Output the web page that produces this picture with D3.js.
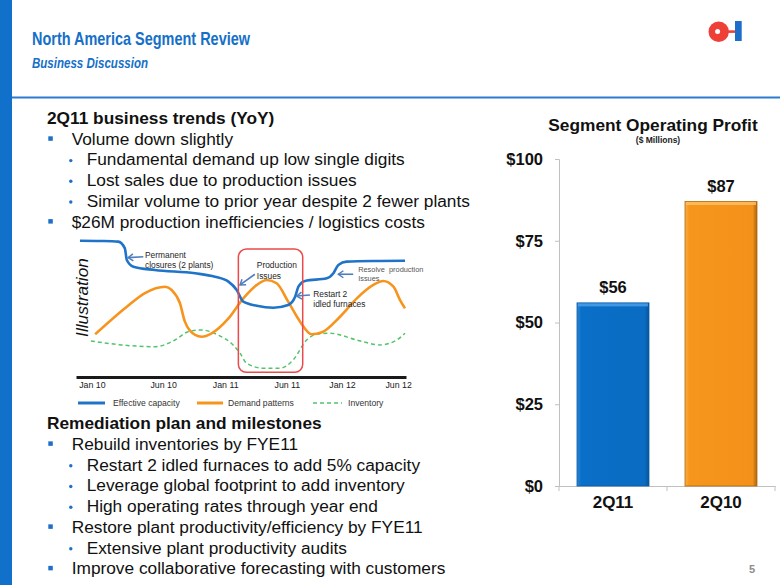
<!DOCTYPE html>
<html><head><meta charset="utf-8">
<script src="https://cdn.jsdelivr.net/npm/d3@7"></script>
<style>
html,body{margin:0;padding:0;background:#fff;}
svg{display:block;font-family:"Liberation Sans",Arial,sans-serif;}
</style></head><body>
<svg id="c" width="780" height="585"></svg>
<script>
// ---------- DATA ----------
const pageTitle = "North America Segment Review";
const pageSubtitle = "Business Discussion";
const pageNumber = "5";

const trendsHeading = "2Q11 business trends (YoY)";
const trendItems = [
  [1, "Volume down slightly"],
  [2, "Fundamental demand up low single digits"],
  [2, "Lost sales due to production issues"],
  [2, "Similar volume to prior year despite 2 fewer plants"],
  [1, "$26M production inefficiencies / logistics costs"]
];
const planHeading = "Remediation plan and milestones";
const planItems = [
  [1, "Rebuild inventories by FYE11"],
  [2, "Restart 2 idled furnaces to add 5% capacity"],
  [2, "Leverage global footprint to add inventory"],
  [2, "High operating rates through year end"],
  [1, "Restore plant productivity/efficiency by FYE11"],
  [2, "Extensive plant productivity audits"],
  [1, "Improve collaborative forecasting with customers"]
];

// Bar chart
const barTitle = "Segment Operating Profit";
const barSubtitle = "($ Millions)";
const barCategories = ["2Q11", "2Q10"];
const barValues = [56, 87];
const barTicks = [0, 25, 50, 75, 100];

// Illustration (index units 0-100 on both axes)
const illoTickLabels = ["Jan 10", "Jun 10", "Jan 11", "Jun 11", "Jan 12", "Jun 12"];
const illoTickPos = [4.8, 26.4, 45.2, 63.9, 80.6, 97.6];
const capacity = [[1.2,99.5],[7.3,99.3],[12.8,98.8],[14.8,93.9],[15.4,85.4],[17.4,80.5],[23.9,78.1],[36.1,75.7],[42.1,73.2],[46.2,69.6],[48.7,63.5],[50.7,55.0],[54.8,52.0],[59.8,50.6],[64.3,52.6],[66.4,58.6],[67.4,65.9],[69.4,70.1],[76.0,72.0],[78.0,75.7],[79.5,81.8],[82.0,84.2],[92.1,84.7],[99.7,84.9]];
const demand = [[5.8,31.2],[15.4,51.3],[20.9,61.3],[27.0,65.9],[29.0,63.5],[31.5,53.8],[33.0,40.4],[36.1,30.7],[38.1,29.4],[41.1,31.9],[46.2,42.8],[50.7,57.4],[54.8,67.2],[57.8,70.8],[60.8,68.4],[64.3,55.0],[67.9,40.4],[71.4,31.2],[74.5,32.6],[80.0,44.0],[85.1,57.4],[90.1,67.2],[93.1,70.1],[96.2,65.9],[98.2,56.2],[99.7,50.1]];
const inventory = [[4.5,26.3],[13.8,23.4],[23.9,22.1],[30.0,27.0],[34.0,33.1],[38.1,34.3],[43.0,30.7],[47.6,23.4],[49.7,17.4],[51.7,10.0],[56.8,6.4],[61.8,6.4],[65.8,12.4],[69.9,27.0],[72.9,31.2],[77.0,31.9],[85.1,27.0],[92.1,23.4],[97.2,27.0],[99.7,31.9]];
const highlightBox = {x0: 49.2, x1: 68.7, y0: 3.4, y1: 93.4};
const annotations = [
  {lines: ["Permanent", "closures (2 plants)"], tx: 20.9, ty: 87.0, ax0: 20.4, ay0: 87.8, ax1: 15.8, ay1: 87.1, small: false},
  {lines: ["Production", "Issues"], tx: 54.8, ty: 79.3, ax0: 54.2, ay0: 75.0, ax1: 49.7, ay1: 67.2, small: false},
  {lines: ["Restart 2", "idled furnaces"], tx: 71.9, ty: 58.6, ax0: 70.9, ay0: 59.9, ax1: 66.9, ay1: 59.1, small: false},
  {lines: ["Resolve  production", "Issues"], tx: 85.5, ty: 76.4, ax0: 84.0, ay0: 75.0, ax1: 79.5, ay1: 75.0, small: true}
];
const legendItems = ["Effective capacity", "Demand patterns", "Inventory"];

// ---------- DRAW ----------
const svg = d3.select("#c");
const BLUE = "#1570C8";

// left bar & header rule
svg.append("rect").attr("x", 0).attr("y", 0).attr("width", 12).attr("height", 585).attr("fill", "#1170C9");
svg.append("rect").attr("x", 12).attr("y", 96.5).attr("width", 768).attr("height", 2).attr("fill", "#2C7BD0");

svg.append("text").attr("x", 32).attr("y", 45)
  .attr("font-family", "'Liberation Sans Narrow','Arial Narrow','Liberation Sans',Arial,sans-serif")
  .attr("font-size", 18.5).attr("font-weight", "bold").attr("fill", BLUE)
  .attr("textLength", 218).attr("lengthAdjust", "spacingAndGlyphs").text(pageTitle);
svg.append("text").attr("x", 32).attr("y", 68.3)
  .attr("font-family", "'Liberation Sans Narrow','Arial Narrow','Liberation Sans',Arial,sans-serif")
  .attr("font-size", 14).attr("font-weight", "bold").attr("font-style", "italic").attr("fill", BLUE)
  .attr("textLength", 116).attr("lengthAdjust", "spacingAndGlyphs").text(pageSubtitle);

// logo
const logo = svg.append("g");
logo.append("rect").attr("x", 727).attr("y", 30.3).attr("width", 9).attr("height", 2.6).attr("fill", "#EE4036");
logo.append("circle").attr("cx", 718.7).attr("cy", 31.7).attr("r", 10.2).attr("fill", "#EE4036");
logo.append("circle").attr("cx", 717.6).attr("cy", 31.5).attr("r", 2.5).attr("fill", "#fff");
logo.append("rect").attr("x", 735).attr("y", 21).attr("width", 6.7).attr("height", 20).attr("fill", "#1B6FC8");

// page number
svg.append("text").attr("x", 752).attr("y", 573).attr("text-anchor", "middle")
  .attr("font-size", 11).attr("font-weight", "bold").attr("fill", "#8C8C8C").text(pageNumber);

// bullet blocks
function block(heading, items, y0, step) {
  const g = svg.append("g");
  g.append("text").attr("x", 47).attr("y", y0).attr("font-size", 17.3).attr("font-weight", "bold")
    .attr("fill", "#111").text(heading);
  items.forEach((it, i) => {
    const y = y0 + (i + 1) * step;
    if (it[0] === 1) {
      g.append("rect").attr("x", 48.3).attr("y", y - 8.4).attr("width", 4.5).attr("height", 4.5).attr("fill", "#1F6FC8");
      g.append("text").attr("x", 71.7).attr("y", y).attr("font-size", 17.3).attr("fill", "#111").text(it[1]);
    } else {
      g.append("circle").attr("cx", 70.8).attr("cy", y - 4.8).attr("r", 1.7).attr("fill", "#1F6FC8");
      g.append("text").attr("x", 86.7).attr("y", y).attr("font-size", 17.3).attr("fill", "#111").text(it[1]);
    }
  });
}
block(trendsHeading, trendItems, 124, 20.7);
block(planHeading, planItems, 429, 20.75);

// ---------- Illustration ----------
const ix = d3.scaleLinear().domain([0, 100]).range([76, 406]);
const iy = d3.scaleLinear().domain([0, 100]).range([377, 240]);
const ig = svg.append("g");
const lineGen = d3.line().x(d => ix(d[0])).y(d => iy(d[1])).curve(d3.curveMonotoneX);

ig.append("path").datum(inventory).attr("d", lineGen).attr("fill", "none")
  .attr("stroke", "#52C46A").attr("stroke-width", 1.5).attr("stroke-dasharray", "4,3");
ig.append("path").datum(demand).attr("d", lineGen).attr("fill", "none")
  .attr("stroke", "#F7941E").attr("stroke-width", 2.6);
ig.append("path").datum(capacity).attr("d", lineGen).attr("fill", "none")
  .attr("stroke", "#1F74C9").attr("stroke-width", 2.6);

// red highlight box
ig.append("rect").attr("x", ix(highlightBox.x0)).attr("y", iy(highlightBox.y1))
  .attr("width", ix(highlightBox.x1) - ix(highlightBox.x0)).attr("height", iy(highlightBox.y0) - iy(highlightBox.y1))
  .attr("rx", 8).attr("fill", "none").attr("stroke", "#EC4A4A").attr("stroke-width", 1.5);

// axis
const ixAxis = d3.axisBottom(ix).tickValues(illoTickPos).tickSize(0).tickPadding(5)
  .tickFormat((d, i) => illoTickLabels[i]);
const axG = ig.append("g").attr("transform", `translate(0,${iy(0)})`).call(ixAxis);
axG.select(".domain").attr("stroke", "#1a1a1a").attr("stroke-width", 3);
axG.selectAll("text").attr("font-size", 8.8).attr("fill", "#222").attr("font-family", "'Liberation Sans',Arial,sans-serif");

// Illustration vertical label
ig.append("text").attr("transform", `translate(88,297.5) rotate(-90)`).attr("text-anchor", "middle")
  .attr("font-size", 17.3).attr("font-style", "italic").attr("fill", "#111").text("Illustration");

// arrows
const defs = svg.append("defs");
defs.append("marker").attr("id", "ah").attr("markerUnits", "userSpaceOnUse")
  .attr("viewBox", "-8 -6 10 12").attr("refX", 0).attr("refY", 0)
  .attr("markerWidth", 10).attr("markerHeight", 12).attr("orient", "auto")
  .append("path").attr("d", "M-5,-3.5L0,0L-5,3.5").attr("fill", "none")
  .attr("stroke", "#4F7FBF").attr("stroke-width", 1.5);

annotations.forEach(a => {
  ig.append("line").attr("x1", ix(a.ax0)).attr("y1", iy(a.ay0)).attr("x2", ix(a.ax1)).attr("y2", iy(a.ay1))
    .attr("stroke", "#4F7FBF").attr("stroke-width", 1.6).attr("marker-end", "url(#ah)");
  const fs = a.small ? 7.4 : 8.4;
  const t = ig.append("text").attr("x", ix(a.tx)).attr("y", iy(a.ty)).attr("font-size", fs)
    .attr("fill", a.small ? "#555" : "#262626").style("white-space", "pre");
  a.lines.forEach((l, i) => {
    t.append("tspan").attr("x", ix(a.tx)).attr("dy", i === 0 ? 0 : (a.small ? 8.8 : 10.5)).text(l);
  });
});

// legend
const legendX = [[78, 105, 113], [197, 223, 228], [313, 342, 348]];
const legendStyle = [
  {stroke: "#1F74C9", w: 3, dash: null},
  {stroke: "#F7941E", w: 3, dash: null},
  {stroke: "#52C46A", w: 1.5, dash: "4,3"}
];
legendItems.forEach((name, i) => {
  const [a, b, tx] = legendX[i];
  ig.append("line").attr("x1", a).attr("x2", b).attr("y1", 403).attr("y2", 403)
    .attr("stroke", legendStyle[i].stroke).attr("stroke-width", legendStyle[i].w)
    .attr("stroke-dasharray", legendStyle[i].dash);
  ig.append("text").attr("x", tx).attr("y", 406).attr("font-size", 8.6).attr("fill", "#333").text(name);
});

// ---------- Bar chart ----------
const bx = d3.scaleBand().domain(barCategories).range([559, 775]).paddingInner(1/3).paddingOuter(1/6);
const by = d3.scaleLinear().domain([0, 100]).range([486, 159]);
const bg = svg.append("g");

bg.append("text").attr("x", 653).attr("y", 130.7).attr("text-anchor", "middle")
  .attr("font-size", 17.3).attr("font-weight", "bold").attr("fill", "#111").text(barTitle);
bg.append("text").attr("x", 658).attr("y", 143.3).attr("text-anchor", "middle")
  .attr("font-size", 8.5).attr("font-weight", "bold").attr("fill", "#222").text(barSubtitle);

// y axis
const yAx = bg.append("g").attr("transform", "translate(559,0)")
  .call(d3.axisLeft(by).tickValues(barTicks).tickSize(4).tickPadding(12).tickFormat(d => "$" + d));
yAx.select(".domain").attr("stroke", "#C0C0C0");
yAx.selectAll(".tick line").attr("stroke", "#C0C0C0");
yAx.selectAll("text").attr("font-size", 16.5).attr("font-weight", "bold").attr("fill", "#111")
  .attr("font-family", "'Liberation Sans',Arial,sans-serif");

// x axis
const xAx = bg.append("g").attr("transform", "translate(0,486)")
  .call(d3.axisBottom(bx).tickSize(0).tickPadding(10));
xAx.select(".domain").attr("stroke", "#C0C0C0");
xAx.selectAll("text").attr("font-size", 17).attr("font-weight", "bold").attr("fill", "#111")
  .attr("font-family", "'Liberation Sans',Arial,sans-serif");
const bounds = [bx.range()[0], ...barCategories.slice(1).map(c => bx(c) - bx.step() * bx.paddingInner() / 2), bx.range()[1]];
bg.selectAll(".xt").data(bounds).join("line").attr("x1", d => d).attr("x2", d => d)
  .attr("y1", 486).attr("y2", 491).attr("stroke", "#C0C0C0");

// gradients
const grads = [
  {id: "gB", stops: ["#2B86D6", "#0A6FC8", "#0A6CC2", "#07549A"]},
  {id: "gO", stops: ["#FBAE45", "#F7961C", "#F3911A", "#A9640F"]}
];
grads.forEach(g => {
  const lg = defs.append("linearGradient").attr("id", g.id).attr("x1", 0).attr("x2", 1).attr("y1", 0).attr("y2", 0);
  [0, 0.06, 0.94, 1].forEach((o, i) => lg.append("stop").attr("offset", o).attr("stop-color", g.stops[i]));
});
const barFill = ["url(#gB)", "url(#gO)"];
const barTop = ["#4FA2EA", "#FFC266"];
const barEdge = ["#0B5AA3", "#B06A10"];

barCategories.forEach((c, i) => {
  const x = bx(c), w = bx.bandwidth(), y = by(barValues[i]), h = by(0) - by(barValues[i]);
  bg.append("rect").attr("x", x).attr("y", y).attr("width", w).attr("height", h)
    .attr("fill", barFill[i]).attr("stroke", barEdge[i]).attr("stroke-width", 0.8);
  bg.append("rect").attr("x", x + 1).attr("y", y + 0.5).attr("width", w - 2).attr("height", 3)
    .attr("fill", barTop[i]).attr("opacity", 0.8);
  bg.append("text").attr("x", x + w / 2).attr("y", y - 10).attr("text-anchor", "middle")
    .attr("font-size", 16.5).attr("font-weight", "bold").attr("fill", "#111").text("$" + barValues[i]);
});
</script>
</body></html>
